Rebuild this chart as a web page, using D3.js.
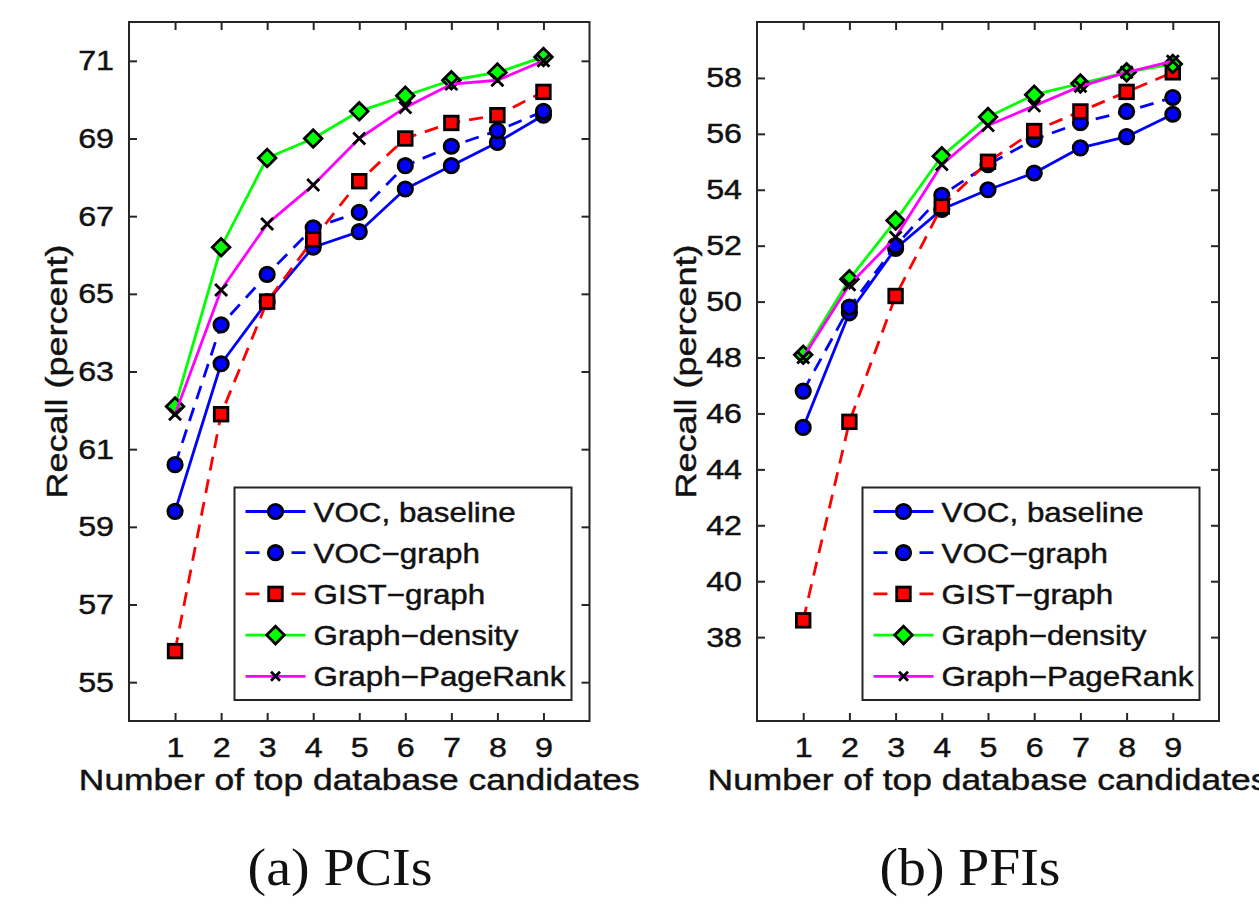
<!DOCTYPE html>
<html>
<head>
<meta charset="utf-8">
<script src="https://cdn.jsdelivr.net/npm/d3@7"></script>
<style>
  html, body { margin: 0; padding: 0; background: #fff; }
  svg { display: block; }
  text { font-family: "Liberation Sans", Arial, Helvetica, sans-serif; fill: #111; }
</style>
</head>
<body>
<svg id="chart" width="1259" height="909"></svg>
<script>
// ---------------- DATA ----------------
const categories = [1, 2, 3, 4, 5, 6, 7, 8, 9];
const seriesNames = ["VOC, baseline", "VOC\u2212graph", "GIST\u2212graph", "Graph\u2212density", "Graph\u2212PageRank"];

// (a) PCIs
const vocBaselinePCI = [59.4, 63.2, 64.8, 66.2, 66.6, 67.7, 68.3, 68.9, 69.6];
const vocGraphPCI    = [60.6, 64.2, 65.5, 66.7, 67.1, 68.3, 68.8, 69.2, 69.7];
const gistGraphPCI   = [55.8, 61.9, 64.8, 66.4, 67.9, 69.0, 69.4, 69.6, 70.2];
const densityPCI     = [62.1, 66.2, 68.5, 69.0, 69.7, 70.1, 70.5, 70.7, 71.1];
const pagerankPCI    = [61.9, 65.1, 66.8, 67.8, 69.0, 69.8, 70.4, 70.5, 71.0];
const yTicksPCI = [55, 57, 59, 61, 63, 65, 67, 69, 71];

// (b) PFIs
const vocBaselinePFI = [45.5, 49.6, 51.9, 53.3, 54.0, 54.6, 55.5, 55.9, 56.7];
const vocGraphPFI    = [46.8, 49.8, 52.0, 53.8, 54.9, 55.8, 56.4, 56.8, 57.3];
const gistGraphPFI   = [38.6, 45.7, 50.2, 53.4, 55.0, 56.1, 56.8, 57.5, 58.2];
const densityPFI     = [48.1, 50.8, 52.9, 55.2, 56.6, 57.4, 57.8, 58.2, 58.5];
const pagerankPFI    = [48.0, 50.6, 52.3, 54.9, 56.3, 57.0, 57.7, 58.2, 58.6];
const yTicksPFI = [38, 40, 42, 44, 46, 48, 50, 52, 54, 56, 58];

const xLabel = "Number of top database candidates";
const yLabel = "Recall (percent)";

// ---------------- STYLE ----------------
const styles = [
  { color: "#0000ff", dash: null,   marker: "circle" },
  { color: "#0000ff", dash: "14,9", marker: "circle" },
  { color: "#ff0000", dash: "14,9", marker: "square" },
  { color: "#00ff00", dash: null,   marker: "diamond" },
  { color: "#ff00ff", dash: null,   marker: "x" }
];

const panels = [
  { left: 129, right: 589.5, top: 22, bottom: 721, domain: [54, 72], yTicks: yTicksPCI,
    data: [vocBaselinePCI, vocGraphPCI, gistGraphPCI, densityPCI, pagerankPCI],
    caption: "(a) PCIs", captionX: 340, captionW: 185, yLabelX: 67 },
  { left: 757, right: 1219, top: 22, bottom: 721, domain: [35, 60], yTicks: yTicksPFI,
    data: [vocBaselinePFI, vocGraphPFI, gistGraphPFI, densityPFI, pagerankPFI],
    caption: "(b) PFIs", captionX: 970, captionW: 181, yLabelX: 696 }
];

const svg = d3.select("#chart");
svg.append("rect").attr("width", 1259).attr("height", 909).attr("fill", "#fff");

function stretch(sel, f) {
  sel.each(function () {
    const w = this.getComputedTextLength();
    this.setAttribute("textLength", w * f);
    this.setAttribute("lengthAdjust", "spacingAndGlyphs");
  });
}
function heavy(sel) {
  sel.attr("stroke", "#111").attr("stroke-width", 0.45).attr("paint-order", "stroke");
}

function drawMarker(g, type, cx, cy, scale) {
  const s = scale || 1;
  if (type === "circle") {
    g.append("circle").attr("cx", cx).attr("cy", cy).attr("r", 7.2 * s)
      .attr("fill", "#0000ff").attr("stroke", "#000").attr("stroke-width", 2.8);
  } else if (type === "square") {
    const h = 6.8 * s;
    g.append("rect").attr("x", cx - h).attr("y", cy - h).attr("width", 2 * h).attr("height", 2 * h)
      .attr("fill", "#ff0000").attr("stroke", "#000").attr("stroke-width", 2.8);
  } else if (type === "diamond") {
    const h = 8.8 * s;
    g.append("path").attr("d", `M${cx},${cy - h}L${cx + h},${cy}L${cx},${cy + h}L${cx - h},${cy}Z`)
      .attr("fill", "#00ff00").attr("stroke", "#000").attr("stroke-width", 2.8).attr("stroke-linejoin", "miter");
  } else if (type === "x") {
    const h = 6 * s;
    g.append("path").attr("d", `M${cx - h},${cy - h}L${cx + h},${cy + h}M${cx - h},${cy + h}L${cx + h},${cy - h}`)
      .attr("stroke", "#000").attr("stroke-width", 2.8).attr("fill", "none");
  }
}

panels.forEach(p => {
  const x = d3.scaleLinear().domain([0, 10]).range([p.left, p.right]);
  const y = d3.scaleLinear().domain(p.domain).range([p.bottom, p.top]);
  const g = svg.append("g");

  const axColor = "#262626";
  const tickLen = 8;
  const bottomAx = g.append("g").attr("transform", `translate(0,${p.bottom})`)
    .call(d3.axisBottom(x).tickValues(categories).tickSize(-tickLen).tickPadding(16).tickFormat(d3.format("d")));
  const topAx = g.append("g").attr("transform", `translate(0,${p.top})`)
    .call(d3.axisTop(x).tickValues(categories).tickSize(-tickLen).tickFormat(""));
  const leftAx = g.append("g").attr("transform", `translate(${p.left},0)`)
    .call(d3.axisLeft(y).tickValues(p.yTicks).tickSize(-tickLen).tickPadding(15).tickFormat(d3.format("d")));
  const rightAx = g.append("g").attr("transform", `translate(${p.right},0)`)
    .call(d3.axisRight(y).tickValues(p.yTicks).tickSize(-tickLen).tickFormat(""));
  [bottomAx, topAx, leftAx, rightAx].forEach(a => {
    a.select(".domain").remove();
    a.selectAll(".tick line").attr("stroke", axColor).attr("stroke-width", 2);
    a.selectAll(".tick text").attr("font-size", 28).attr("fill", "#111")
      .attr("font-family", '"Liberation Sans", Arial, sans-serif');
  });
  stretch(bottomAx.selectAll(".tick text"), 1.15);
  stretch(leftAx.selectAll(".tick text"), 1.15);
  heavy(bottomAx.selectAll(".tick text"));
  heavy(leftAx.selectAll(".tick text"));

  g.append("rect").attr("x", p.left).attr("y", p.top)
    .attr("width", p.right - p.left).attr("height", p.bottom - p.top)
    .attr("fill", "none").attr("stroke", axColor).attr("stroke-width", 2);

  // series
  const line = d3.line().x((d, i) => x(categories[i])).y(d => y(d));
  p.data.forEach((vals, si) => {
    const st = styles[si];
    const sg = g.append("g");
    sg.append("path").attr("d", line(vals)).attr("fill", "none")
      .attr("stroke", st.color).attr("stroke-width", 2.8)
      .attr("stroke-dasharray", st.dash).attr("stroke-linejoin", "round");
    vals.forEach((v, i) => drawMarker(sg, st.marker, x(categories[i]), y(v)));
  });

  // legend
  const lx = p.left + 105.5, ly = 487.5, lw = 337, lh = 212.5;
  const lg = g.append("g");
  lg.append("rect").attr("x", lx).attr("y", ly).attr("width", lw).attr("height", lh)
    .attr("fill", "#fff").attr("stroke", axColor).attr("stroke-width", 2);
  seriesNames.forEach((name, si) => {
    const st = styles[si];
    const cy = ly + 24 + si * 41.2;
    lg.append("line").attr("x1", lx + 11).attr("x2", lx + 71).attr("y1", cy).attr("y2", cy)
      .attr("stroke", st.color).attr("stroke-width", 2.8).attr("stroke-dasharray", st.dash);
    drawMarker(lg, st.marker, lx + 41, cy, st.marker === "x" ? 0.75 : 1);
    const t = lg.append("text").attr("x", lx + 79).attr("y", cy + 10)
      .attr("font-size", 28).text(name);
    stretch(t, 1.12);
    heavy(t);
  });

  // axis labels
  const xl = g.append("text").attr("x", (p.left + p.right) / 2).attr("y", 790)
    .attr("text-anchor", "middle").attr("font-size", 30).text(xLabel);
  stretch(xl, 1.18);
  heavy(xl);
  const yl = g.append("text")
    .attr("transform", `translate(${p.yLabelX},${(p.top + p.bottom) / 2}) rotate(-90)`)
    .attr("text-anchor", "middle").attr("font-size", 30).text(yLabel);
  stretch(yl, 1.2);
  heavy(yl);

  // caption
  const cap = svg.append("text").attr("x", p.captionX).attr("y", 885)
    .attr("text-anchor", "middle").attr("font-size", 52)
    .style("font-family", '"Liberation Serif", "Times New Roman", serif')
    .text(p.caption);
  cap.each(function () {
    this.setAttribute("textLength", p.captionW);
    this.setAttribute("lengthAdjust", "spacingAndGlyphs");
  });
});
</script>
</body>
</html>
